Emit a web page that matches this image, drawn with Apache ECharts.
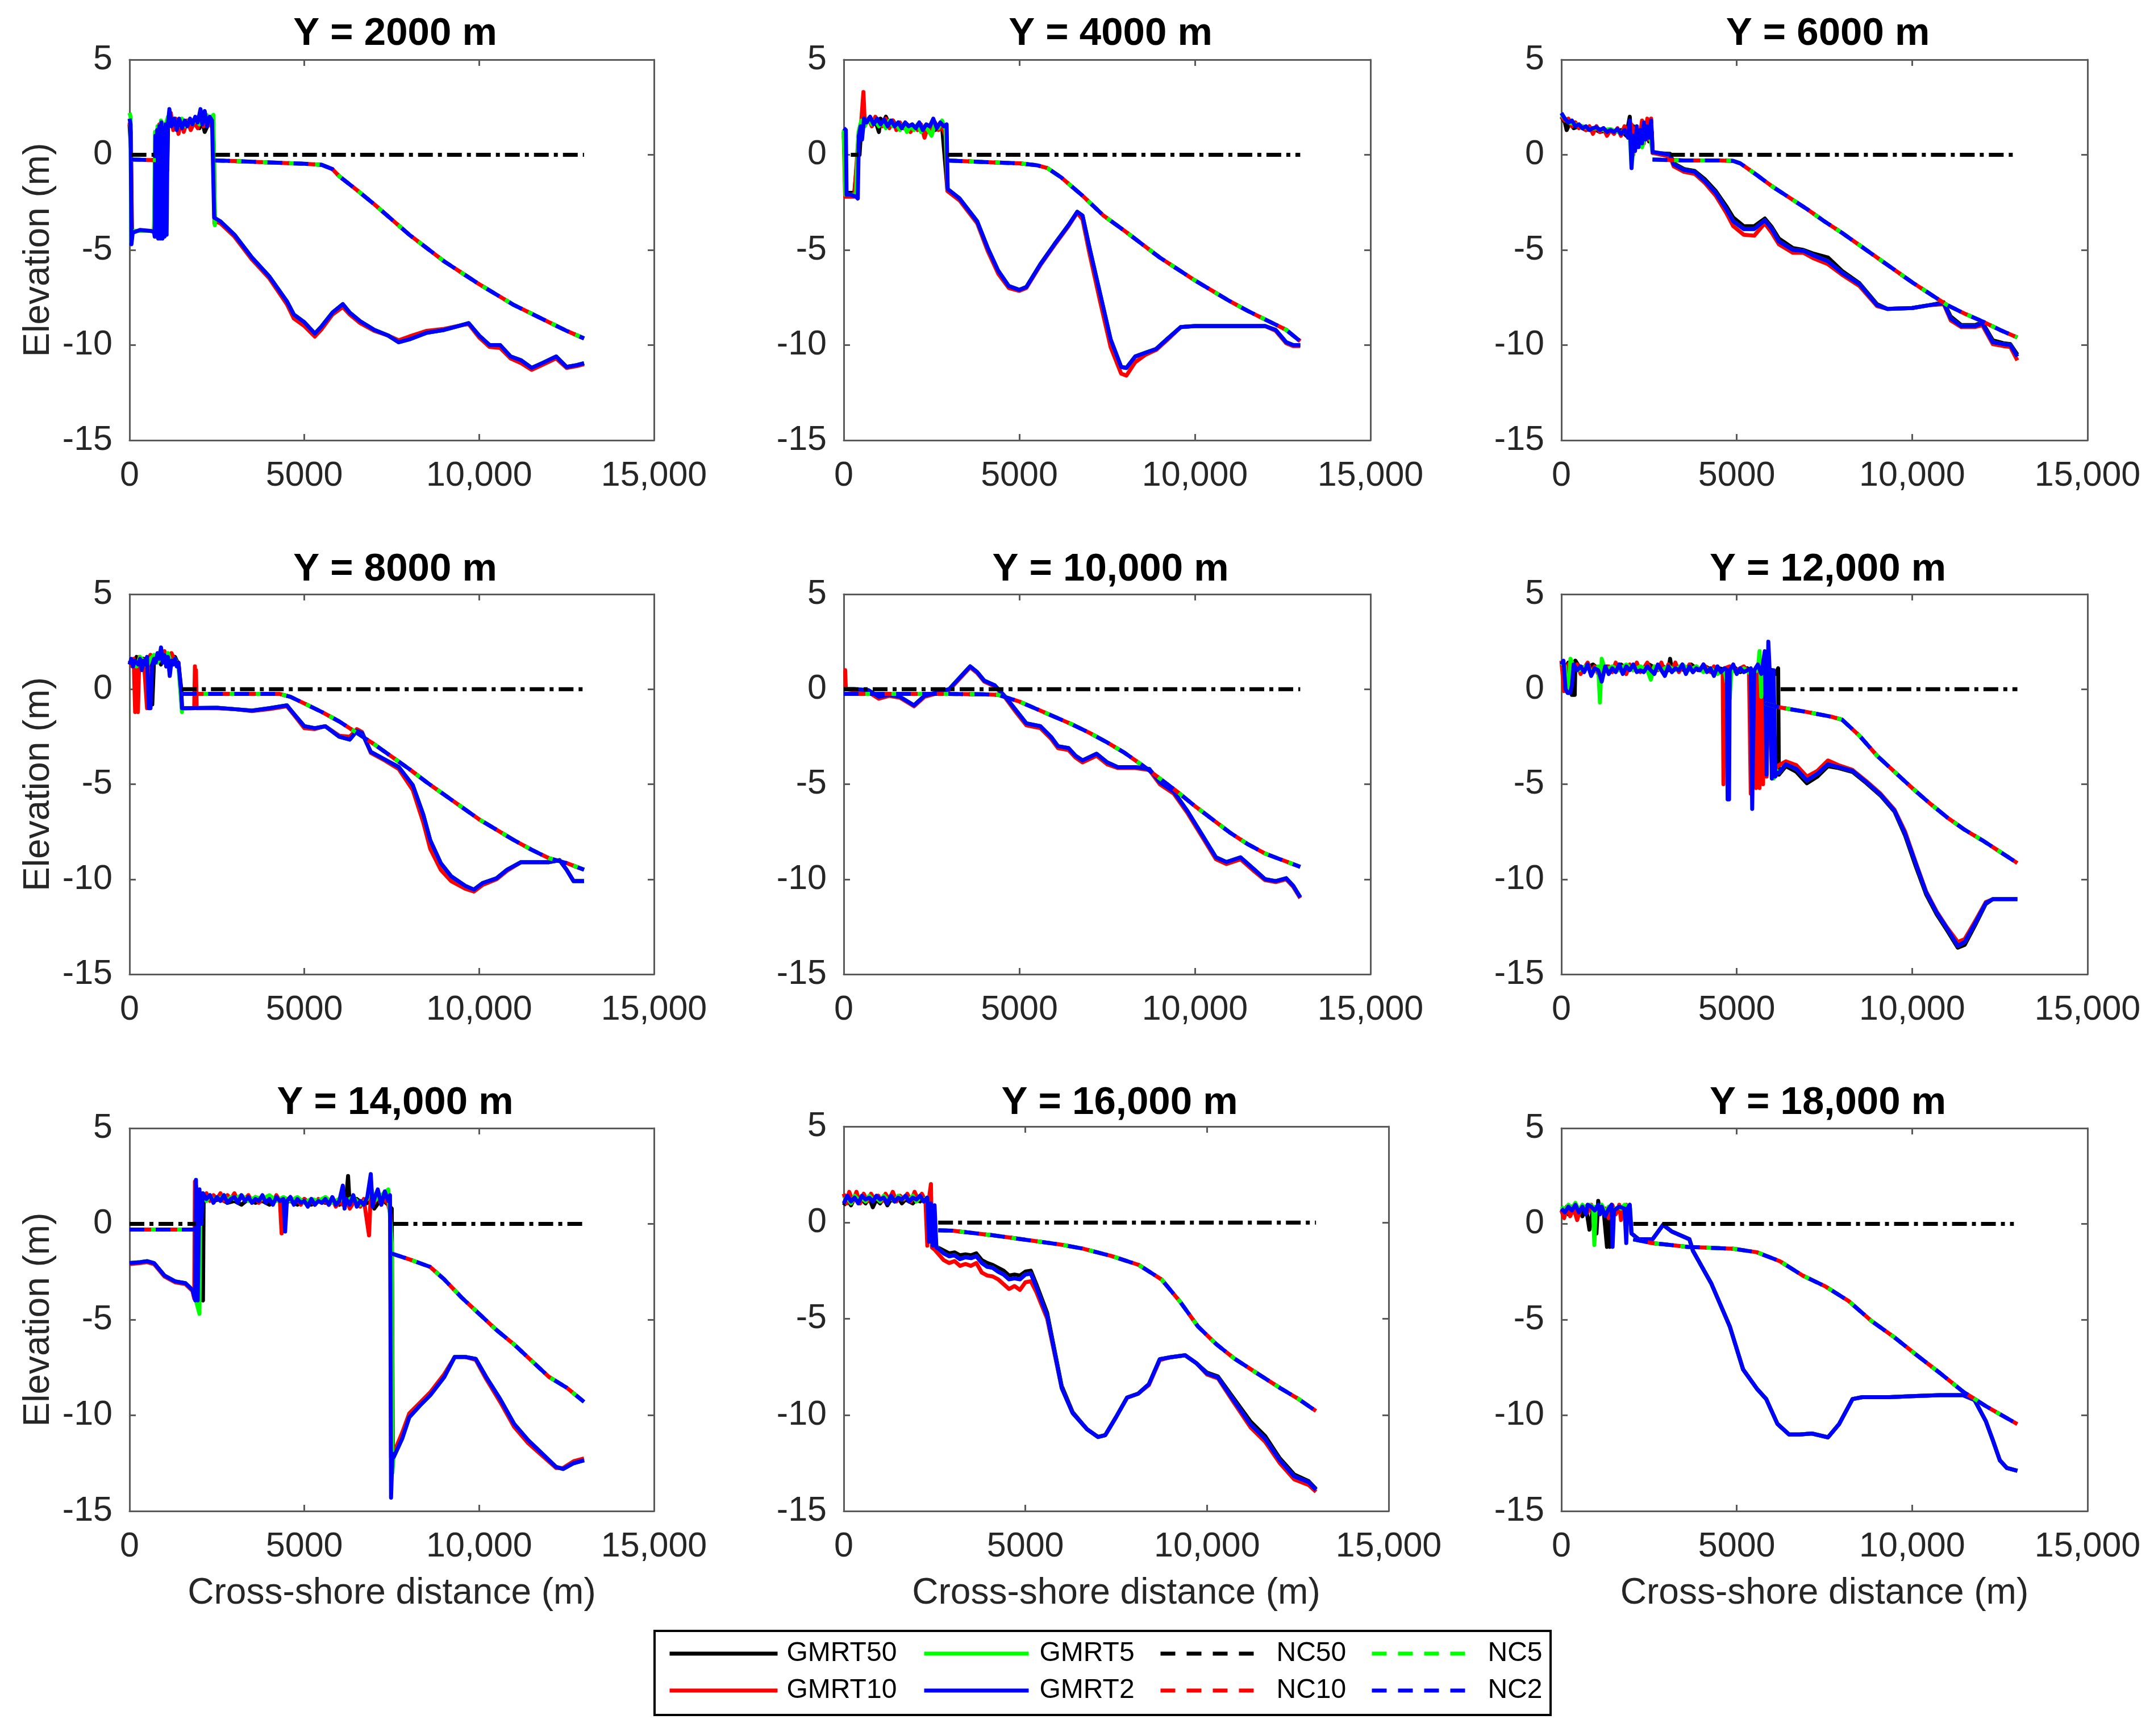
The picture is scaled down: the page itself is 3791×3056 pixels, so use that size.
<!DOCTYPE html>
<html><head><meta charset="utf-8">
<script src="https://cdn.jsdelivr.net/npm/echarts@6/dist/echarts.min.js"></script>
<style>html,body{margin:0;padding:0;background:#fff}#c{width:3791px;height:3056px}</style>
</head><body><div id="c"></div><script>
// ---------------- DATA ----------------
const panelTitles = ['Y = 2000 m','Y = 4000 m','Y = 6000 m','Y = 8000 m','Y = 10,000 m','Y = 12,000 m','Y = 14,000 m','Y = 16,000 m','Y = 18,000 m'];
const seriesNames = ['GMRT50','GMRT10','GMRT5','GMRT2','NC50','NC10','NC5','NC2'];
const xTickValues = [0, 5000, 10000, 15000];
const yTickValues = [-15, -10, -5, 0, 5];

// ---- Y = 2000 m ----
const land50_2000 = [[0,1.6],[40,0.3],[70,-4.0],[700,-4.0],[760,-2.0],[820,-1.2],[880,0.9],[930,-0.8],[990,1.2],[1070,0.9],[1080,-0.8],[1100,1.5],[1200,1.8],[1300,1.5],[1400,1.7],[1500,1.4],[1600,1.7],[1700,1.5],[1800,1.8],[1900,1.6],[2000,1.4],[2060,1.9],[2150,1.2],[2250,1.6],[2350,1.8],[2410,0.5],[2440,-3.4]];
const land10_2000 = [[0,1.7],[40,1.2],[60,-4.0],[700,-4.0],[760,1.0],[800,1.3],[850,1.6],[900,1.2],[1000,1.5],[1100,1.8],[1180,2.2],[1250,1.3],[1320,1.9],[1400,1.1],[1480,1.8],[1550,1.2],[1650,1.8],[1750,1.3],[1850,1.7],[1950,1.4],[2050,1.9],[2120,1.5],[2200,2.0],[2300,1.6],[2380,1.4],[2430,-3.6]];
const land5_2000 = [[0,2.2],[30,2.0],[45,-4.6],[80,-4.0],[700,-4.0],[730,1.2],[760,-4.2],[800,1.5],[850,-4.2],[900,1.8],[1000,1.4],[1100,2.0],[1200,1.6],[1300,1.8],[1400,1.5],[1500,1.9],[1600,1.5],[1700,1.8],[1800,1.6],[1900,1.9],[2000,1.6],[2100,1.8],[2200,2.1],[2300,1.9],[2400,2.1],[2440,-3.7]];
const land2_2000 = [[0,1.9],[30,1.6],[55,-4.7],[90,-4.1],[300,-3.95],[600,-4.0],[700,-4.05],[720,-4.3],[740,1.0],[760,-4.3],[790,1.3],[820,-4.4],[850,1.5],[880,-4.4],[910,1.7],[940,-4.4],[970,1.4],[1000,-4.3],[1030,1.6],[1060,-4.2],[1090,1.5],[1140,2.4],[1200,1.5],[1280,1.9],[1350,1.3],[1420,1.9],[1500,1.4],[1580,1.8],[1650,1.5],[1730,1.9],[1800,1.6],[1880,2.0],[1950,1.7],[2030,2.4],[2080,1.6],[2150,2.3],[2220,1.5],[2290,2.0],[2360,1.8],[2420,-3.3]];
const sea_2000 = [[2450,-3.35],[2600,-3.5],[3000,-4.2],[3500,-5.4],[4000,-6.4],[4500,-7.7],[4700,-8.4],[5000,-8.8],[5300,-9.4],[5500,-9.0],[5800,-8.3],[6100,-7.85],[6300,-8.3],[6600,-8.75],[7000,-9.2],[7400,-9.5],[7700,-9.85],[8000,-9.7],[8500,-9.35],[9000,-9.2],[9500,-8.95],[9700,-8.85],[10000,-9.5],[10300,-10.0],[10600,-10.0],[10900,-10.6],[11200,-10.8],[11500,-11.2],[11800,-10.95],[12200,-10.6],[12500,-11.15],[12800,-11.05],[13000,-10.95]];
const sea10_2000 = [[2450,-3.5],[2600,-3.6],[3000,-4.3],[3500,-5.5],[4000,-6.5],[4500,-7.85],[4700,-8.6],[5000,-9.0],[5300,-9.55],[5500,-9.15],[5800,-8.4],[6100,-8.0],[6300,-8.4],[6600,-8.85],[7000,-9.25],[7400,-9.5],[7700,-9.75],[8000,-9.55],[8500,-9.25],[9000,-9.15],[9500,-8.95],[9700,-8.9],[10000,-9.6],[10300,-10.1],[10600,-10.15],[10900,-10.7],[11200,-10.95],[11500,-11.3],[11800,-11.05],[12200,-10.7],[12500,-11.2],[12800,-11.1],[13000,-11.0]];
const nc_2000 = [[50,-0.25],[750,-0.28],[760,null],[2450,-0.3],[3000,-0.33],[4000,-0.4],[5000,-0.47],[5500,-0.53],[5800,-0.75],[6000,-1.13],[6500,-1.85],[7000,-2.6],[7500,-3.4],[8000,-4.2],[8500,-4.9],[9000,-5.6],[9500,-6.2],[10000,-6.8],[10500,-7.35],[11000,-7.9],[11500,-8.35],[12000,-8.8],[12500,-9.25],[13000,-9.65]];
const wl_2000 = [[60,0],[700,0],[710,null],[2450,0],[13000,0]];

// ---- Y = 4000 m ----
const land50_4000 = [[0,1.2],[60,-2.0],[300,-2.0],[400,0.0],[450,0.0],[500,1.5],[600,1.7],[700,1.9],[800,1.6],[900,1.8],[1000,1.2],[1050,1.9],[1100,1.6],[1200,2.0],[1300,1.6],[1400,1.8],[1500,1.5],[1600,1.6],[1700,1.4],[1800,1.6],[1900,1.4],[2000,1.5],[2200,1.4],[2400,1.5],[2600,1.3],[2800,1.5],[2950,-1.8]];
const land10_4000 = [[0,1.0],[40,-2.2],[300,-2.2],[420,1.0],[480,1.3],[560,3.3],[600,1.6],[700,1.9],[800,1.5],[900,2.0],[1000,1.7],[1100,1.5],[1200,1.9],[1300,1.4],[1400,1.8],[1500,1.3],[1600,1.7],[1700,1.4],[1800,1.6],[1900,1.2],[2000,1.5],[2100,1.3],[2200,1.6],[2300,0.9],[2400,1.5],[2500,1.2],[2600,1.7],[2700,1.3],[2800,1.5],[2900,1.0],[2950,-1.9]];
const land5_4000 = [[0,1.3],[50,-2.1],[350,-2.1],[420,1.2],[500,1.8],[600,1.5],[700,1.9],[800,1.6],[900,1.8],[1000,1.5],[1100,1.7],[1200,1.4],[1300,1.8],[1400,1.5],[1500,1.6],[1600,1.3],[1700,1.6],[1800,1.2],[1900,1.5],[2000,1.3],[2100,1.6],[2200,1.2],[2300,1.5],[2400,1.3],[2500,1.0],[2600,1.6],[2700,1.4],[2800,1.8],[2900,1.3],[2960,-1.7]];
const land2_4000 = [[0,1.4],[60,1.3],[80,-2.1],[200,-2.1],[350,-2.2],[400,-2.3],[430,1.0],[480,1.5],[520,0.8],[580,1.9],[650,1.7],[750,2.0],[850,1.6],[950,1.9],[1050,1.6],[1150,1.85],[1250,1.5],[1350,1.8],[1450,1.5],[1550,1.7],[1650,1.4],[1750,1.7],[1850,1.5],[1950,1.6],[2050,1.4],[2150,1.7],[2250,1.3],[2350,1.6],[2450,1.5],[2550,1.9],[2650,1.4],[2750,1.7],[2850,1.5],[2930,1.6],[2960,-1.8]];
const sea_4000 = [[2960,-1.8],[3300,-2.3],[3800,-3.5],[4100,-4.9],[4400,-6.1],[4700,-6.9],[5000,-7.1],[5200,-6.95],[5600,-5.75],[6000,-4.7],[6400,-3.7],[6650,-3.0],[6800,-3.2],[7000,-4.9],[7300,-7.3],[7600,-9.7],[7900,-11.15],[8050,-11.2],[8300,-10.6],[8600,-10.4],[8900,-10.2],[9200,-9.7],[9600,-9.05],[10000,-9.0],[11000,-9.0],[12000,-9.0],[12300,-9.2],[12600,-9.85],[12800,-10.0],[13000,-10.0]];
const sea10_4000 = [[2960,-1.9],[3300,-2.4],[3800,-3.6],[4100,-5.05],[4400,-6.25],[4700,-7.0],[5000,-7.15],[5200,-7.0],[5600,-5.8],[6000,-4.75],[6400,-3.75],[6650,-3.05],[6800,-3.4],[7000,-5.2],[7300,-7.7],[7600,-10.1],[7900,-11.5],[8050,-11.6],[8300,-10.9],[8600,-10.5],[8900,-10.25],[9200,-9.75],[9600,-9.05],[10000,-9.0],[11000,-9.0],[12000,-9.0],[12300,-9.25],[12600,-9.9],[12800,-10.05],[13000,-10.05]];
const nc_4000 = [[2960,-0.3],[4000,-0.38],[5000,-0.45],[5500,-0.55],[5800,-0.7],[6200,-1.2],[6800,-2.15],[7400,-3.2],[8000,-4.0],[8500,-4.7],[9000,-5.4],[9500,-6.0],[10000,-6.6],[10500,-7.15],[11000,-7.7],[11500,-8.2],[12000,-8.65],[12600,-9.2],[13000,-9.8]];
const wl_4000 = [[200,0],[420,0],[430,null],[2960,0],[13000,0]];

// ---- Y = 6000 m ----
const land50_6000 = [[0,2.0],[100,1.7],[150,1.3],[250,1.7],[350,1.4],[500,1.5],[700,1.3],[900,1.4],[1100,1.2],[1300,1.3],[1500,1.2],[1700,1.3],[1850,1.0],[1950,2.0],[2000,0.5],[2050,1.5],[2100,0.3],[2200,1.2],[2300,0.5],[2400,1.4],[2500,0.7],[2580,1.2],[2600,0.1]];
const land10_6000 = [[0,2.0],[100,1.8],[200,1.9],[300,1.5],[400,1.7],[500,1.4],[600,1.5],[700,1.3],[800,1.5],[900,1.1],[1000,1.5],[1100,1.2],[1200,1.4],[1300,1.0],[1400,1.3],[1500,1.1],[1600,1.4],[1700,1.0],[1800,1.5],[1900,1.2],[2000,1.6],[2050,0.0],[2100,1.4],[2200,0.5],[2300,1.8],[2350,0.6],[2450,1.9],[2500,0.8],[2560,1.9],[2600,0.1]];
const land5_6000 = [[0,2.1],[200,1.7],[400,1.6],[600,1.5],[800,1.35],[1000,1.4],[1200,1.3],[1400,1.35],[1600,1.2],[1800,1.2],[1950,1.0],[2000,-0.6],[2050,0.2],[2100,0.5],[2200,0.9],[2300,0.4],[2400,1.0],[2500,1.3],[2600,0.15]];
const land2_6000 = [[0,2.2],[100,1.9],[200,1.7],[300,1.8],[400,1.5],[500,1.6],[600,1.4],[700,1.5],[800,1.3],[900,1.4],[1000,1.45],[1100,1.3],[1200,1.4],[1300,1.2],[1400,1.3],[1500,1.2],[1600,1.35],[1700,1.1],[1800,1.3],[1900,0.9],[1950,1.8],[2000,-0.7],[2050,1.0],[2100,0.2],[2150,1.5],[2200,0.4],[2250,1.3],[2300,0.6],[2350,1.7],[2400,0.8],[2450,1.5],[2500,0.9],[2560,1.8],[2600,0.15]];
const sea_6000 = [[2600,0.15],[3100,0.0],[3200,-0.5],[3500,-0.8],[3800,-0.9],[4100,-1.4],[4400,-2.0],[4700,-2.85],[4900,-3.5],[5200,-3.9],[5500,-3.9],[5800,-3.45],[6000,-3.9],[6200,-4.55],[6600,-5.0],[6900,-5.05],[7200,-5.3],[7600,-5.6],[8000,-6.2],[8500,-6.8],[9000,-7.9],[9300,-8.1],[10000,-8.05],[10500,-7.9],[10900,-7.8],[11100,-8.6],[11400,-9.0],[11800,-9.0],[12000,-8.85],[12300,-9.85],[12600,-9.95],[12800,-10.0],[13000,-10.6]];
const sea10_6000 = [[2600,0.1],[3100,-0.1],[3200,-0.6],[3500,-0.9],[3800,-1.0],[4100,-1.5],[4400,-2.15],[4700,-3.05],[4900,-3.75],[5200,-4.2],[5500,-4.25],[5800,-3.6],[6000,-4.1],[6200,-4.7],[6600,-5.15],[6900,-5.15],[7200,-5.45],[7600,-5.75],[8000,-6.3],[8500,-6.9],[9000,-7.95],[9300,-8.1],[10000,-8.05],[10500,-7.9],[10900,-7.85],[11100,-8.7],[11400,-9.05],[11800,-9.05],[12000,-8.95],[12300,-9.95],[12600,-10.05],[12800,-10.1],[13000,-10.8]];
const sea50_6000 = [[2600,0.15],[3100,0.05],[3200,-0.45],[3500,-0.75],[3800,-0.85],[4100,-1.3],[4400,-1.9],[4700,-2.7],[4900,-3.3],[5200,-3.75],[5500,-3.75],[5800,-3.35],[6000,-3.8],[6200,-4.4],[6600,-4.9],[6900,-5.0],[7200,-5.2],[7600,-5.4],[8000,-6.1],[8500,-6.75],[9000,-7.85],[9300,-8.1],[10000,-8.05],[10500,-7.9],[10900,-7.75],[11100,-8.5],[11400,-8.95],[11800,-8.95],[12000,-8.8],[12300,-9.75],[12600,-9.9],[12800,-9.95],[13000,-10.5]];
const nc_6000 = [[2600,-0.25],[3500,-0.3],[4500,-0.3],[4900,-0.32],[5100,-0.45],[5600,-1.1],[6000,-1.65],[6500,-2.25],[7000,-2.85],[7500,-3.5],[8000,-4.1],[8500,-4.75],[9000,-5.4],[9500,-6.05],[10000,-6.7],[10500,-7.3],[11000,-7.9],[11500,-8.35],[12000,-8.75],[12500,-9.2],[13000,-9.6]];
const wl_6000 = [[3100,0],[13000,0]];

// ---- Y = 8000 m ----
const land50_8000 = [[0,1.4],[100,1.3],[200,1.7],[300,1.2],[400,1.6],[500,1.4],[600,1.8],[650,-0.8],[700,1.5],[800,1.7],[900,1.3],[950,1.9],[1000,1.5],[1100,1.6],[1200,1.4],[1300,1.7],[1400,1.3],[1480,0.0],[1500,-1.0]];
const land10_8000 = [[0,1.5],[80,1.2],[120,1.6],[160,-1.2],[200,1.4],[240,-1.2],[280,1.7],[350,1.5],[420,1.2],[500,-1.0],[540,1.5],[600,1.8],[700,1.4],[800,1.7],[900,1.5],[1000,2.0],[1050,1.2],[1100,1.8],[1150,0.8],[1200,1.9],[1300,1.5],[1400,1.4]];
const land5_8000 = [[0,1.4],[100,1.5],[200,1.2],[300,1.7],[400,1.5],[500,1.2],[600,1.6],[700,1.8],[800,1.4],[900,1.7],[1000,1.5],[1100,1.9],[1200,1.3],[1300,1.6],[1400,1.2],[1500,-1.2]];
const land2_8000 = [[0,1.3],[50,1.6],[100,1.2],[150,1.5],[250,1.3],[300,1.6],[350,1.0],[400,1.5],[450,1.3],[500,1.7],[550,-1.0],[600,-1.0],[650,1.3],[700,1.6],[750,1.4],[800,1.9],[850,1.6],[900,2.2],[950,1.4],[1000,1.8],[1050,1.2],[1100,1.7],[1150,0.7],[1200,1.5],[1250,1.3],[1300,1.6],[1350,1.2],[1400,1.4],[1480,-0.2]];
const sea_8000 = [[1500,-1.0],[2500,-0.98],[3000,-1.05],[3500,-1.13],[4000,-1.0],[4500,-0.85],[4700,-1.3],[5000,-1.95],[5300,-2.05],[5600,-1.95],[6000,-2.5],[6300,-2.65],[6500,-2.2],[6650,-2.3],[6900,-3.3],[7300,-3.7],[7700,-4.1],[8100,-5.05],[8400,-6.6],[8600,-7.95],[8900,-9.15],[9200,-9.85],[9600,-10.35],[9850,-10.55],[10100,-10.2],[10500,-9.95],[10800,-9.5],[11200,-9.1],[11600,-9.1],[12000,-9.1],[12300,-9.0],[12500,-9.5],[12700,-10.1],[13000,-10.1]];
const sea10_8000 = [[1500,-1.0],[1850,-1.0],[1870,1.2],[1880,-0.9],[1900,1.0],[1920,-1.0],[2500,-1.0],[3000,-1.05],[3500,-1.15],[4000,-1.05],[4500,-0.9],[4700,-1.35],[5000,-2.05],[5300,-2.1],[5600,-1.95],[6000,-2.45],[6300,-2.5],[6500,-2.1],[6650,-2.25],[6900,-3.35],[7300,-3.75],[7700,-4.2],[8100,-5.3],[8400,-7.0],[8600,-8.4],[8900,-9.5],[9200,-10.1],[9600,-10.5],[9850,-10.65],[10100,-10.3],[10500,-10.0],[10800,-9.55],[11200,-9.1],[11600,-9.1],[12000,-9.1],[12300,-9.0],[12500,-9.5],[12700,-10.1],[13000,-10.1]];
const nc_8000 = [[1500,-0.25],[4300,-0.25],[4600,-0.4],[5000,-0.75],[5500,-1.2],[6000,-1.7],[6500,-2.3],[7000,-2.9],[7500,-3.55],[8000,-4.2],[8500,-4.9],[9000,-5.55],[9500,-6.2],[10000,-6.85],[10500,-7.4],[11000,-7.95],[11500,-8.45],[12000,-8.9],[12500,-9.15],[13000,-9.5]];
const wl_8000 = [[1500,0],[13000,0]];

// ---- Y = 10,000 m ----
const land10_10000 = [[0,1.0],[40,1.0],[60,0.0]];
const sea_10000 = [[0,0.0],[300,0.0],[700,-0.05],[1000,-0.4],[1300,-0.3],[1600,-0.4],[2000,-0.85],[2300,-0.35],[2700,-0.15],[3000,0.0],[3400,0.8],[3600,1.2],[3800,0.9],[4000,0.45],[4300,0.2],[4600,-0.4],[4900,-1.1],[5200,-1.8],[5600,-1.95],[5900,-2.5],[6100,-3.0],[6400,-3.1],[6600,-3.5],[6800,-3.75],[7200,-3.4],[7500,-3.85],[7800,-4.1],[8300,-4.1],[8700,-4.2],[9000,-4.9],[9400,-5.4],[9800,-6.45],[10200,-7.65],[10600,-8.85],[10900,-9.1],[11300,-8.85],[11700,-9.5],[12000,-10.0],[12300,-10.1],[12600,-9.95],[12800,-10.35],[13000,-10.95]];
const sea10_10000 = [[300,-0.05],[700,-0.15],[1000,-0.5],[1300,-0.35],[1600,-0.45],[2000,-0.9],[2300,-0.4],[2700,-0.2],[3000,-0.05],[3400,0.75],[3600,1.15],[3800,0.85],[4000,0.4],[4300,0.15],[4600,-0.45],[4900,-1.2],[5200,-1.9],[5600,-2.05],[5900,-2.6],[6100,-3.1],[6400,-3.2],[6600,-3.6],[6800,-3.85],[7200,-3.5],[7500,-3.95],[7800,-4.15],[8300,-4.15],[8700,-4.25],[9000,-5.0],[9400,-5.5],[9800,-6.55],[10200,-7.75],[10600,-8.95],[10900,-9.2],[11300,-8.95],[11700,-9.6],[12000,-10.05],[12300,-10.15],[12600,-10.0],[12800,-10.4],[13000,-11.0]];
const nc_10000 = [[0,-0.25],[1000,-0.25],[2000,-0.25],[3000,-0.25],[4000,-0.27],[4400,-0.3],[5000,-0.65],[5500,-1.05],[6000,-1.45],[6500,-1.85],[7000,-2.3],[7500,-2.8],[8000,-3.35],[8500,-4.0],[9000,-4.7],[9500,-5.4],[10000,-6.15],[10500,-6.85],[11000,-7.55],[11500,-8.15],[12000,-8.65],[12500,-9.0],[13000,-9.35]];
const wl_10000 = [[0,0],[13000,0]];

// ---- Y = 12,000 m ----
const land50_12000 = [[0,1.3],[100,1.1],[200,1.4],[260,0.8],[300,-0.3],[380,-0.3],[400,1.5],[500,1.2],[700,1.1],[900,1.3],[1100,1.0],[1300,1.2],[1500,1.1],[1700,1.3],[1900,1.0],[2100,1.2],[2300,1.0],[2500,1.3],[2700,1.1],[2900,1.2],[3050,1.0],[3100,1.6],[3150,1.0],[3300,1.2],[3500,1.0],[3700,1.3],[3900,1.0],[4100,1.2],[4300,1.0],[4500,1.1],[4700,1.0],[4900,1.2],[5100,0.9],[5300,1.1],[5500,0.7],[5600,1.0],[5700,0.6],[5800,1.0],[5900,0.8],[6000,1.0],[6100,0.8],[6180,1.1]];
const land10_12000 = [[0,1.5],[50,0.5],[80,-0.1],[150,1.2],[250,1.4],[350,1.0],[450,1.3],[550,0.8],[650,1.1],[750,1.4],[850,0.9],[950,1.2],[1050,0.8],[1150,1.3],[1250,1.0],[1350,1.2],[1450,0.9],[1550,1.4],[1650,1.0],[1750,1.2],[1850,0.8],[1950,1.3],[2050,1.0],[2150,1.4],[2250,0.9],[2350,1.1],[2450,1.4],[2550,0.9],[2650,1.2],[2750,1.0],[2850,1.4],[2950,0.9],[3050,1.3],[3150,1.0],[3250,1.4],[3350,0.9],[3450,1.2],[3550,1.0],[3650,1.3],[3750,0.9],[3850,1.2],[3950,1.0],[4050,1.3],[4150,1.1],[4250,0.9],[4350,1.2],[4450,1.0],[4550,0.9],[4600,1.0],[4620,-5.0],[4650,1.1],[4800,1.2],[5000,1.0],[5200,1.2],[5350,0.9],[5400,-5.5],[5450,1.0],[5550,-5.2],[5600,1.0],[5650,-5.2],[5700,0.9],[5750,-5.0],[5800,1.0],[5850,-4.6],[5900,0.8],[6000,-4.0],[6100,-4.2]];
const land5_12000 = [[0,1.4],[100,1.2],[150,-0.1],[200,0.0],[260,1.6],[350,1.2],[500,1.0],[700,1.2],[900,0.9],[1050,1.2],[1100,-0.7],[1150,1.6],[1250,1.0],[1450,1.2],[1650,1.0],[1850,1.3],[2050,1.0],[2250,1.2],[2450,1.0],[2550,0.5],[2650,1.2],[2850,1.0],[3050,1.2],[3250,1.0],[3450,1.3],[3650,1.0],[3850,1.2],[4050,0.9],[4250,1.1],[4450,0.8],[4650,1.0],[4800,-0.5],[4850,1.0],[5000,0.9],[5200,1.1],[5400,0.8],[5600,1.0],[5650,2.0],[5700,-0.4],[5750,0.3],[5800,1.8],[5850,-0.5],[5950,0.0],[6050,-4.7],[6150,-4.3]];
const land2_12000 = [[0,1.3],[60,1.5],[120,0.0],[180,-0.2],[250,-0.2],[300,0.2],[350,1.3],[450,1.0],[550,1.2],[650,0.9],[750,1.3],[850,0.7],[950,1.1],[1050,1.0],[1150,0.4],[1250,1.2],[1350,0.8],[1450,1.1],[1550,0.9],[1650,1.3],[1750,0.8],[1850,1.2],[1950,1.0],[2050,1.3],[2150,0.9],[2250,1.0],[2350,0.9],[2450,1.2],[2550,1.0],[2650,0.8],[2750,1.3],[2850,1.0],[2950,0.7],[3050,1.2],[3150,0.9],[3250,1.1],[3350,1.0],[3450,1.3],[3550,0.8],[3650,1.2],[3750,0.9],[3850,1.1],[3950,1.0],[4050,1.3],[4150,0.9],[4250,1.1],[4350,0.7],[4450,1.2],[4550,0.9],[4650,1.1],[4720,1.0],[4740,-5.8],[4780,-5.8],[4800,1.0],[4900,1.3],[5000,0.8],[5100,1.1],[5200,0.9],[5300,1.0],[5400,1.1],[5440,-6.3],[5470,-6.3],[5500,1.0],[5600,1.3],[5700,0.8],[5800,2.0],[5850,-4.5],[5900,2.5],[5950,0.5],[6000,-4.7],[6050,1.0],[6100,-4.6],[6150,-4.4]];
const sea_12000 = [[6200,-4.4],[6400,-3.95],[6700,-4.2],[7000,-4.8],[7300,-4.45],[7600,-3.95],[7900,-4.1],[8300,-4.3],[8700,-4.9],[9100,-5.55],[9500,-6.4],[9800,-7.6],[10100,-9.15],[10400,-10.7],[10700,-11.75],[11000,-12.6],[11300,-13.5],[11500,-13.3],[11800,-12.3],[12100,-11.25],[12300,-11.05],[12600,-11.05],[13000,-11.05]];
const sea10_12000 = [[6200,-4.0],[6400,-3.8],[6700,-4.0],[7000,-4.6],[7300,-4.3],[7600,-3.75],[7900,-4.0],[8300,-4.25],[8700,-4.85],[9100,-5.5],[9500,-6.35],[9800,-7.5],[10100,-9.1],[10400,-10.65],[10700,-11.7],[11000,-12.55],[11300,-13.3],[11500,-13.15],[11800,-12.2],[12100,-11.2],[12300,-11.05],[12600,-11.05],[13000,-11.05]];
const sea50_12000 = [[6200,-4.5],[6400,-4.05],[6700,-4.35],[7000,-4.95],[7300,-4.6],[7600,-4.05],[7900,-4.15],[8300,-4.35],[8700,-4.95],[9100,-5.6],[9500,-6.45],[9800,-7.7],[10100,-9.3],[10400,-10.8],[10700,-11.85],[11000,-12.7],[11300,-13.6],[11500,-13.45],[11800,-12.4],[12100,-11.3],[12300,-11.05],[12600,-11.05],[13000,-11.05]];
const nc_12000 = [[5800,-0.75],[6200,-0.95],[7000,-1.2],[7700,-1.45],[8000,-1.6],[8500,-2.45],[9000,-3.5],[9500,-4.35],[10000,-5.2],[10500,-6.0],[11000,-6.75],[11500,-7.4],[12000,-7.95],[12500,-8.55],[13000,-9.15]];
const wl_12000 = [[6250,0],[13000,0]];

// ---- Y = 14,000 m ----
const land50_14000 = [[0,-2.05],[300,-2.0],[500,-1.95],[700,-2.05],[1000,-2.7],[1300,-3.0],[1600,-3.1],[1800,-3.45],[1950,-3.9],[2100,-4.0],[2120,1.5],[2200,1.4],[2400,1.2],[2600,1.3],[2800,1.1],[3000,1.2],[3200,1.0],[3400,1.3],[3600,1.1],[3800,1.2],[4000,1.0],[4200,1.3],[4400,1.1],[4600,1.2],[4800,1.0],[5000,1.3],[5200,1.0],[5400,1.2],[5600,1.1],[5800,1.3],[6000,1.0],[6200,1.4],[6250,2.5],[6300,0.9],[6500,1.3],[6700,1.0],[6900,1.2],[7000,0.8],[7200,1.3],[7400,1.0],[7500,0.8],[7530,-12.0]];
const land10_14000 = [[0,-2.1],[300,-2.05],[500,-2.0],[700,-2.1],[1000,-2.75],[1300,-3.05],[1600,-3.15],[1800,-3.5],[1850,-3.9],[1870,2.2],[1900,2.0],[1950,1.2],[2000,1.5],[2100,1.3],[2200,1.6],[2300,1.2],[2400,1.5],[2500,1.3],[2600,1.6],[2700,1.2],[2800,1.5],[2900,1.3],[3000,1.6],[3100,1.2],[3200,1.4],[3300,1.3],[3400,1.5],[3500,1.2],[3600,1.4],[3700,1.1],[3800,1.3],[3900,1.2],[4000,1.4],[4100,1.1],[4200,1.5],[4300,1.2],[4350,-0.5],[4400,1.3],[4500,1.2],[4600,1.4],[4700,1.1],[4800,1.3],[4900,1.0],[5000,1.3],[5100,1.1],[5200,1.2],[5300,1.0],[5400,1.3],[5500,1.1],[5600,1.2],[5700,1.0],[5800,1.3],[5900,0.9],[6000,1.2],[6100,1.0],[6200,1.3],[6300,0.8],[6400,1.1],[6500,1.2],[6600,0.9],[6700,1.3],[6850,-0.6],[6900,1.6],[7000,1.1],[7100,1.5],[7200,1.0],[7300,1.4],[7400,1.0],[7460,0.5],[7480,-12.2]];
const land5_14000 = [[0,-2.05],[300,-2.0],[500,-1.95],[700,-2.05],[1000,-2.7],[1300,-3.0],[1600,-3.1],[1800,-3.45],[1900,-4.0],[2000,-4.7],[2030,1.6],[2100,1.4],[2200,1.2],[2300,1.5],[2400,1.2],[2500,1.4],[2600,1.3],[2700,1.5],[2800,1.2],[2900,1.4],[3000,1.3],[3200,1.5],[3400,1.2],[3600,1.4],[3800,1.3],[4000,1.5],[4200,1.2],[4400,1.4],[4600,1.2],[4800,1.4],[5000,1.1],[5200,1.3],[5400,1.2],[5600,1.4],[5800,1.1],[6000,1.3],[6200,1.2],[6400,1.4],[6600,1.0],[6800,1.3],[6900,2.0],[7000,1.2],[7200,1.5],[7400,1.8],[7500,-1.0],[7520,-13.0]];
const land2_14000 = [[0,-2.05],[300,-2.0],[500,-1.95],[700,-2.05],[1000,-2.7],[1300,-3.0],[1600,-3.1],[1800,-3.45],[1880,-4.0],[1900,2.3],[1950,-4.0],[2000,1.8],[2050,0.0],[2100,1.6],[2200,1.3],[2300,1.5],[2400,1.1],[2500,1.4],[2600,1.2],[2700,1.5],[2800,1.1],[2900,1.3],[3000,1.4],[3100,1.1],[3200,1.5],[3300,1.2],[3400,1.4],[3500,1.1],[3600,1.3],[3700,1.2],[3800,1.5],[3900,1.1],[4000,1.3],[4100,1.0],[4200,1.4],[4300,1.2],[4400,1.3],[4450,-0.4],[4500,1.2],[4600,1.4],[4700,1.0],[4800,1.3],[4900,1.1],[5000,1.2],[5100,0.9],[5200,1.3],[5300,1.0],[5400,1.2],[5500,1.1],[5600,1.3],[5700,1.0],[5800,1.4],[5900,1.0],[6000,1.2],[6100,2.0],[6150,0.8],[6200,1.3],[6300,1.0],[6400,1.5],[6500,0.9],[6600,1.2],[6700,1.0],[6800,1.4],[6900,2.6],[6950,0.9],[7000,1.3],[7100,1.8],[7200,1.0],[7300,1.7],[7400,1.2],[7450,1.5],[7480,-14.3],[7520,-12.0]];
const sea_14000 = [[7550,-12.2],[7800,-11.2],[8000,-10.1],[8300,-9.5],[8600,-8.95],[9000,-8.0],[9300,-6.95],[9600,-6.95],[9900,-7.05],[10200,-8.0],[10600,-9.15],[11000,-10.45],[11400,-11.3],[11800,-12.0],[12200,-12.7],[12400,-12.8],[12700,-12.5],[13000,-12.35]];
const sea10_14000 = [[7550,-12.0],[7800,-10.9],[8000,-9.9],[8300,-9.35],[8600,-8.8],[9000,-7.85],[9300,-6.95],[9600,-6.95],[9900,-7.1],[10200,-8.1],[10600,-9.3],[11000,-10.6],[11400,-11.45],[11800,-12.1],[12200,-12.75],[12400,-12.75],[12700,-12.4],[13000,-12.25]];
const nc_14000 = [[0,-0.3],[1900,-0.3],[1910,null],[7500,-1.55],[8000,-1.85],[8600,-2.25],[9000,-2.9],[9500,-3.85],[10000,-4.7],[10500,-5.55],[11000,-6.3],[11500,-7.15],[12000,-8.0],[12500,-8.55],[13000,-9.3]];
const wl_14000 = [[0,0],[1900,0],[1910,null],[7550,0],[13000,0]];

// ---- Y = 16,000 m ----
const land50_16000 = [[0,0.9],[100,1.2],[200,0.9],[300,1.3],[400,1.1],[500,1.2],[600,1.0],[700,1.3],[800,0.8],[900,1.2],[1000,1.0],[1100,1.3],[1200,0.9],[1300,1.2],[1400,1.1],[1500,1.3],[1600,1.0],[1700,1.2],[1800,1.1],[1900,1.0],[2000,1.2],[2100,1.1],[2200,1.3],[2300,1.2],[2400,-0.9],[2450,0.4],[2500,-1.2]];
const land10_16000 = [[0,1.5],[80,1.0],[150,1.6],[250,1.1],[350,1.6],[450,1.0],[550,1.5],[650,1.1],[750,1.5],[850,1.2],[950,1.4],[1050,1.1],[1150,1.5],[1250,1.2],[1350,1.6],[1450,1.1],[1550,1.4],[1650,1.2],[1750,1.5],[1850,1.1],[1950,1.6],[2050,1.2],[2150,1.5],[2250,1.1],[2300,-1.2],[2350,1.3],[2400,2.0],[2430,-1.3]];
const land5_16000 = [[0,1.2],[100,1.3],[200,1.0],[300,1.4],[400,1.2],[500,1.3],[600,1.1],[700,1.4],[800,1.2],[900,1.3],[1000,1.1],[1100,1.4],[1200,1.2],[1300,1.3],[1400,1.1],[1500,1.4],[1600,1.2],[1700,1.3],[1800,1.2],[1900,1.4],[2000,1.1],[2100,1.3],[2200,1.2],[2300,1.3],[2350,-0.8],[2450,-0.5],[2500,-1.1]];
const land2_16000 = [[0,1.0],[100,1.4],[200,1.1],[300,1.3],[400,1.0],[500,1.4],[600,1.2],[700,1.3],[800,1.1],[900,1.4],[1000,1.2],[1100,1.3],[1200,1.0],[1300,1.4],[1400,1.1],[1500,1.3],[1600,1.2],[1700,1.4],[1800,1.1],[1900,1.3],[2000,1.2],[2100,1.4],[2200,1.1],[2300,1.3],[2350,-1.0],[2400,1.0],[2450,-1.2],[2500,0.9],[2550,-1.3]];
const sea_16000 = [[2600,-1.35],[2750,-1.6],[2900,-1.75],[3050,-1.7],[3200,-1.9],[3350,-1.8],[3500,-1.85],[3650,-1.75],[3800,-2.1],[3950,-2.3],[4100,-2.35],[4250,-2.55],[4400,-2.7],[4550,-2.95],[4700,-2.9],[4850,-2.95],[5000,-2.7],[5150,-2.65],[5300,-3.35],[5600,-4.85],[5800,-6.7],[6000,-8.6],[6300,-9.9],[6700,-10.75],[7000,-11.15],[7200,-11.05],[7500,-10.1],[7800,-9.1],[8100,-8.9],[8400,-8.4],[8700,-7.1],[9000,-7.0],[9400,-6.9],[9700,-7.3],[10000,-7.85],[10300,-8.05],[10700,-9.15],[11200,-10.5],[11600,-11.25],[12000,-12.35],[12400,-13.2],[12800,-13.5],[13000,-13.9]];
const sea10_16000 = [[2500,-1.4],[2750,-1.95],[2900,-2.1],[3050,-2.0],[3200,-2.25],[3350,-2.15],[3500,-2.25],[3650,-2.1],[3800,-2.6],[3950,-2.75],[4100,-2.8],[4250,-2.95],[4400,-3.2],[4550,-3.45],[4700,-3.3],[4850,-3.5],[5000,-3.1],[5150,-3.05],[5300,-3.6],[5600,-5.0],[5800,-6.8],[6000,-8.6],[6300,-9.9],[6700,-10.75],[7000,-11.15],[7200,-11.05],[7500,-10.1],[7800,-9.1],[8100,-8.9],[8400,-8.45],[8700,-7.15],[9000,-7.0],[9400,-6.9],[9700,-7.3],[10000,-7.9],[10300,-8.1],[10700,-9.25],[11200,-10.65],[11600,-11.4],[12000,-12.5],[12400,-13.35],[12800,-13.65],[13000,-14.0]];
const sea50_16000 = [[2600,-1.3],[2750,-1.45],[2900,-1.6],[3050,-1.55],[3200,-1.7],[3350,-1.65],[3500,-1.7],[3650,-1.6],[3800,-1.95],[3950,-2.1],[4100,-2.2],[4250,-2.35],[4400,-2.5],[4550,-2.75],[4700,-2.7],[4850,-2.75],[5000,-2.55],[5150,-2.5],[5300,-3.2],[5600,-4.7],[5800,-6.6],[6000,-8.5],[6300,-9.85],[6700,-10.75],[7000,-11.15],[7200,-11.05],[7500,-10.1],[7800,-9.1],[8100,-8.9],[8400,-8.4],[8700,-7.1],[9000,-7.0],[9400,-6.9],[9700,-7.3],[10000,-7.8],[10300,-8.0],[10700,-9.05],[11200,-10.35],[11600,-11.1],[12000,-12.25],[12400,-13.1],[12800,-13.45],[13000,-13.85]];
const nc_16000 = [[2600,-0.4],[3000,-0.42],[4100,-0.66],[5350,-0.98],[6000,-1.15],[6600,-1.36],[7360,-1.73],[8120,-2.2],[8750,-2.96],[9250,-4.09],[9750,-5.4],[10260,-6.33],[10760,-7.08],[11390,-7.85],[12020,-8.61],[12500,-9.15],[13000,-9.8]];
const wl_16000 = [[2600,0],[13000,0]];

// ---- Y = 18,000 m ----
const land50_18000 = [[0,0.6],[100,0.8],[200,0.5],[300,0.9],[400,0.6],[500,0.8],[600,0.4],[700,0.9],[800,-0.3],[900,0.8],[1000,-0.5],[1050,1.2],[1100,0.6],[1200,0.8],[1300,-1.2],[1340,0.7],[1380,-1.2],[1420,0.5],[1550,0.6],[1650,0.8],[1750,0.5],[1850,0.7],[1950,0.6]];
const land10_18000 = [[0,0.7],[80,0.3],[150,0.9],[250,0.4],[350,0.8],[450,0.2],[550,0.8],[650,0.9],[750,0.6],[850,1.0],[950,0.6],[1050,0.9],[1150,0.6],[1250,0.8],[1350,0.3],[1450,1.0],[1550,0.5],[1650,1.0],[1700,0.2],[1750,0.9],[1850,1.0],[1950,0.7]];
const land5_18000 = [[0,0.9],[100,0.7],[200,1.0],[300,0.8],[400,1.1],[500,0.7],[600,1.0],[700,0.8],[800,1.0],[900,0.9],[940,-1.1],[980,0.9],[1050,0.7],[1150,1.0],[1250,0.6],[1350,0.9],[1450,0.7],[1550,0.8],[1650,0.9],[1700,0.8],[1800,1.0],[1900,0.9],[1960,0.8]];
const land2_18000 = [[0,0.8],[100,0.6],[200,0.9],[300,0.7],[400,1.0],[500,0.6],[600,0.9],[700,0.5],[750,1.0],[850,0.9],[950,0.7],[1050,1.0],[1100,0.5],[1150,0.9],[1250,0.4],[1350,0.8],[1430,1.0],[1460,-1.2],[1500,0.7],[1650,0.9],[1800,0.8],[1850,-1.0],[1880,0.8],[1950,1.0]];
const sea_18000 = [[2000,-0.5],[2200,-0.8],[2600,-0.8],[2900,-0.05],[3150,-0.4],[3400,-0.6],[3650,-0.8],[3750,-1.4],[4270,-3.1],[4800,-5.35],[5180,-7.6],[5570,-8.6],[5840,-9.15],[6160,-10.45],[6490,-11.0],[6800,-11.0],[7140,-10.95],[7600,-11.15],[7920,-10.45],[8300,-9.15],[8580,-9.05],[9360,-9.05],[10000,-9.0],[10800,-8.95],[11450,-8.95],[11780,-9.2],[12100,-10.3],[12300,-11.3],[12500,-12.35],[12700,-12.75],[13000,-12.9]];
const nc_18000 = [[2050,-0.8],[2570,-1.0],[3600,-1.2],[4900,-1.3],[5570,-1.48],[6230,-1.95],[6880,-2.7],[7530,-3.27],[8190,-4.03],[8840,-5.07],[9490,-5.92],[10140,-6.87],[10800,-7.8],[11450,-8.76],[12100,-9.52],[13000,-10.46]];
const wl_18000 = [[2050,0],[12900,0]];

// ---------------- assembly ----------------
const panelData = [
  {g50: land50_2000.concat(sea_2000), g10: land10_2000.concat(sea10_2000), g5: land5_2000.concat(sea_2000), g2: land2_2000.concat(sea_2000), nc: nc_2000, wl: wl_2000},
  {g50: land50_4000.concat(sea_4000), g10: land10_4000.concat(sea10_4000), g5: land5_4000.concat(sea_4000), g2: land2_4000.concat(sea_4000), nc: nc_4000, wl: wl_4000},
  {g50: land50_6000.concat(sea50_6000), g10: land10_6000.concat(sea10_6000), g5: land5_6000.concat(sea_6000), g2: land2_6000.concat(sea_6000), nc: nc_6000, wl: wl_6000},
  {g50: land50_8000.concat(sea_8000), g10: land10_8000.concat(sea10_8000), g5: land5_8000.concat(sea_8000), g2: land2_8000.concat(sea_8000), nc: nc_8000, wl: wl_8000},
  {g50: sea_10000, g10: land10_10000.concat(sea10_10000), g5: sea_10000, g2: sea_10000, nc: nc_10000, wl: wl_10000},
  {g50: land50_12000.concat(sea50_12000), g10: land10_12000.concat(sea10_12000), g5: land5_12000.concat(sea_12000), g2: land2_12000.concat(sea_12000), nc: nc_12000, wl: wl_12000},
  {g50: land50_14000.concat(sea_14000), g10: land10_14000.concat(sea10_14000), g5: land5_14000.concat(sea_14000), g2: land2_14000.concat(sea_14000), nc: nc_14000, wl: wl_14000},
  {g50: land50_16000.concat(sea50_16000), g10: land10_16000.concat(sea10_16000), g5: land5_16000.concat(sea_16000), g2: land2_16000.concat(sea_16000), nc: nc_16000, wl: wl_16000},
  {g50: land50_18000.concat(sea_18000), g10: land10_18000.concat(sea_18000), g5: land5_18000.concat(sea_18000), g2: land2_18000.concat(sea_18000), nc: nc_18000, wl: wl_18000}
];

// ---------------- layout & style ----------------
const FONT = '"Liberation Sans", Arial, Helvetica, sans-serif';
const colLeft = [228, 1485, 2748];
const colWidth = [923, 927, 926];
const rowTop = [105, 1046, 1986];
const rowHeight = [670, 669, 674];
const titleCenterY = [60, 1003, 1942];
const LW = 7;
const STY = {
  GMRT50: {color: '#000000', type: 'solid', off: 0},
  GMRT10: {color: '#ff0000', type: 'solid', off: 0},
  GMRT5:  {color: '#00ff00', type: 'solid', off: 0},
  GMRT2:  {color: '#0000ff', type: 'solid', off: 0},
  NC50:   {color: '#000000', type: [26, 20], off: 10},
  NC10:   {color: '#ff0000', type: [26, 20], off: 23},
  NC5:    {color: '#00ff00', type: [26, 20], off: 8},
  NC2:    {color: '#0000ff', type: [26, 20], off: 0},
  WL:     {color: '#000000', type: [26, 9, 7, 9], off: 0}
};
const AX_COLOR = '#5a5a5a';
const LBL_COLOR = '#262626';

function fmtX(v) {
  if (v >= 10000) return String(v).replace(/\B(?=(\d{3})+(?!\d))/g, ',');
  return String(v);
}
function mkLine(name, data, idx) {
  const s = STY[name];
  return {
    type: 'line', name: name, data: data, xAxisIndex: idx, yAxisIndex: idx,
    symbol: 'none', showSymbol: false, animation: false, silent: true, clip: true,
    connectNulls: false, emphasis: {disabled: true},
    itemStyle: {color: s.color},
    lineStyle: {color: s.color, width: LW, type: s.type, dashOffset: s.off, join: 'round', cap: 'butt'}
  };
}

const grids = [], xAxes = [], yAxes = [], series = [], titles = [];
panelData.forEach((p, i) => {
  const r = Math.floor(i / 3), c = i % 3;
  let left = colLeft[c], width = colWidth[c], top = rowTop[r], height = rowHeight[r];
  if (i === 7) { width = 959; top = 1983; height = 677; }
  grids.push({left, top, width, height, containLabel: false, outerBoundsMode: 'none', show: false});
  titles.push({
    text: panelTitles[i], left: left + width / 2 + 6, top: titleCenterY[r] - 35, textAlign: 'center', padding: 0,
    textStyle: {fontFamily: FONT, fontSize: 69, fontWeight: 'bold', color: '#000'}
  });
  const common = {type: 'value', gridIndex: i, splitLine: {show: false}, axisLine: {show: true, onZero: false, lineStyle: {color: AX_COLOR, width: 3}},
    axisTick: {show: true, inside: true, length: 11, lineStyle: {color: AX_COLOR, width: 3}}};
  xAxes.push(Object.assign({}, common, {
    position: 'bottom', min: xTickValues[0], max: xTickValues[xTickValues.length - 1], interval: 5000,
    axisLabel: {show: true, formatter: fmtX, margin: 33, fontFamily: FONT, fontSize: 61, color: LBL_COLOR},
    name: r === 2 ? 'Cross-shore distance (m)' : '', nameLocation: 'middle', nameGap: 113,
    nameTextStyle: {fontFamily: FONT, fontSize: 64, color: LBL_COLOR}
  }));
  xAxes.push(Object.assign({}, common, {
    position: 'top', min: xTickValues[0], max: xTickValues[xTickValues.length - 1], interval: 5000, axisLabel: {show: false}
  }));
  yAxes.push(Object.assign({}, common, {
    position: 'left', min: yTickValues[0], max: yTickValues[yTickValues.length - 1], interval: 5,
    axisLabel: {show: true, margin: 30, fontFamily: FONT, fontSize: 61, color: LBL_COLOR},
    name: c === 0 ? 'Elevation (m)' : '', nameLocation: 'middle', nameGap: 128,
    nameTextStyle: {fontFamily: FONT, fontSize: 64, color: LBL_COLOR}
  }));
  yAxes.push(Object.assign({}, common, {
    position: 'right', min: yTickValues[0], max: yTickValues[yTickValues.length - 1], interval: 5, axisLabel: {show: false}
  }));
  const xi = 2 * i;
  const mk = (name, data) => { const s = mkLine(name, data, xi); s.yAxisIndex = xi; return s; };
  series.push(mk('GMRT50', p.g50), mk('GMRT10', p.g10), mk('GMRT5', p.g5), mk('GMRT2', p.g2),
              mk('NC50', p.nc), mk('NC10', p.nc), mk('NC5', p.nc), mk('NC2', p.nc), mk('WL', p.wl));
});

const legendCols = [
  {left: 1170, names: ['GMRT50', 'GMRT10'], itemWidth: 190, pad: 11},
  {left: 1618, names: ['GMRT5', 'GMRT2'], itemWidth: 184, pad: 14},
  {left: 2034, names: ['NC50', 'NC10'], itemWidth: 169, pad: 30},
  {left: 2406, names: ['NC5', 'NC2'], itemWidth: 168, pad: 31}
];
const legends = legendCols.map(col => ({
  orient: 'vertical', left: col.left, top: 2881, itemWidth: col.itemWidth, itemHeight: 14, itemGap: 15,
  data: col.names, selectedMode: false, padding: 5,
  itemStyle: {opacity: 0},
  lineStyle: {width: 7, dashOffset: 0},
  textStyle: {fontFamily: FONT, fontSize: 48, color: '#000', lineHeight: 50, padding: [0, 0, 0, col.pad]}
}));

const chart = echarts.init(document.getElementById('c'), null, {renderer: 'canvas'});
chart.setOption({
  backgroundColor: '#ffffff',
  animation: false,
  textStyle: {fontFamily: FONT},
  title: titles,
  grid: grids,
  xAxis: xAxes,
  yAxis: yAxes,
  legend: legends,
  graphic: [{type: 'rect', silent: true, shape: {x: 1152, y: 2871, width: 1577, height: 148},
             style: {fill: 'none', stroke: '#000', lineWidth: 4}}],
  series: series
});
</script></body></html>
